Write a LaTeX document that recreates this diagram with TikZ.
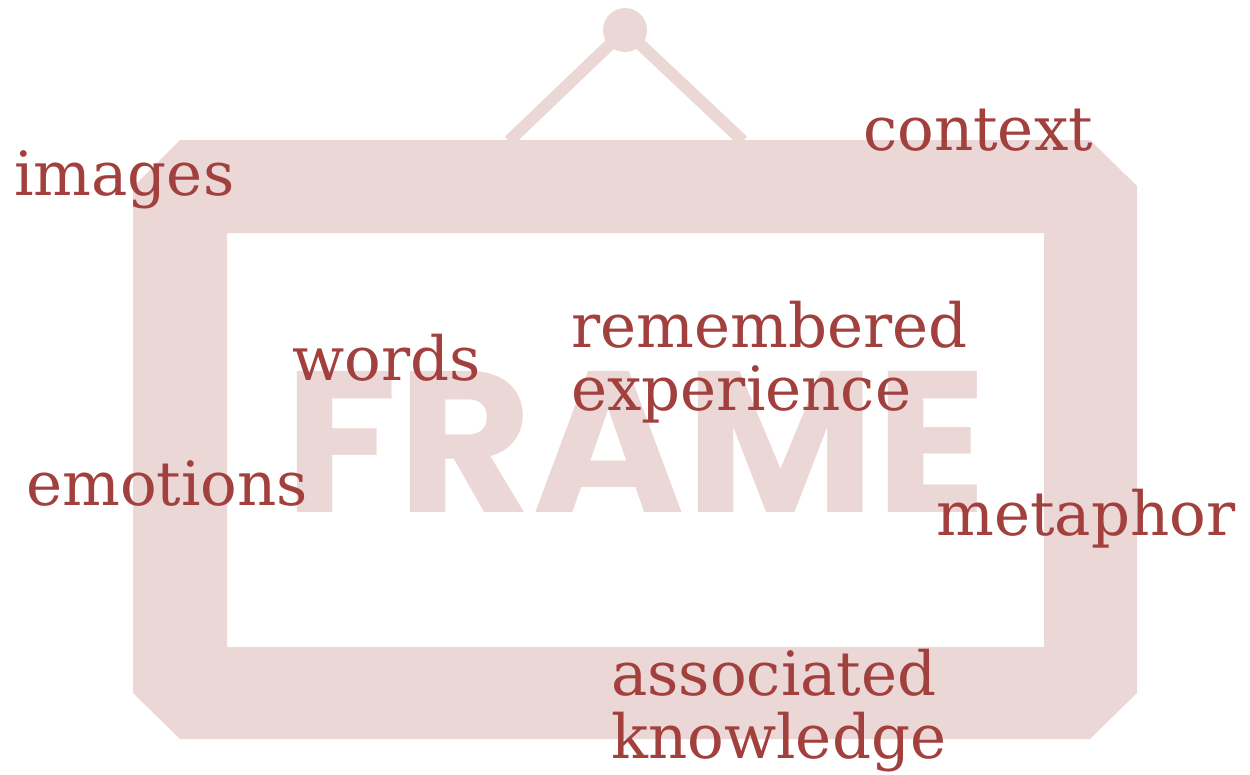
\documentclass[tikz,border=0pt]{standalone}
\usepackage{fontspec}
\setmainfont{DejaVu Serif}
\newfontfamily\framefont{Poppins}
\definecolor{framepink}{HTML}{ECD7D7}
\definecolor{wordred}{HTML}{A2403D}
\begin{document}
\begin{tikzpicture}[x=1pt,y=-1pt,
  word/.style={text=wordred, font=\fontsize{61}{63}\selectfont, inner sep=0pt, anchor=base west},
  hookline/.style={draw=framepink, line width=12pt}]
\useasboundingbox (0,0) rectangle (1250,774);
% frame body
\fill[framepink, even odd rule]
  (180,140) -- (1090,140) -- (1137,186) -- (1137,693) -- (1090,739) --
  (180,739) -- (133,693) -- (133,187) -- cycle
  (227,233) rectangle (1044,647);
% hook
\coordinate (hl) at (509,141);
\coordinate (hr) at (743,141);
\node[circle, fill=framepink, minimum size=44pt, inner sep=0pt] (hook) at (625,30) {};
\draw[hookline] (hook.center) -- (hl);
\draw[hookline] (hook.center) -- (hr);
% big word
\node[inner sep=0pt, anchor=south west, text=framepink] (frame) at (284,513)
  {\resizebox{703pt}{141pt}{\framefont\bfseries FRAME}};
% words
\node[word] (images) at (14,195) {images};
\node[word] (context) at (863,150) {context};
\node[word] (words) at (292,380) {words};
\node[word] (remembered) at (571,347) {remembered};
\node[word] (experience) at (571,410) {experience};
\node[word] (emotions) at (26,505) {emotions};
\node[word] (metaphor) at (936,535) {metaphor};
\node[word] (associated) at (611,695) {associated};
\node[word] (knowledge) at (611,758) {knowledge};
\end{tikzpicture}
\end{document}
